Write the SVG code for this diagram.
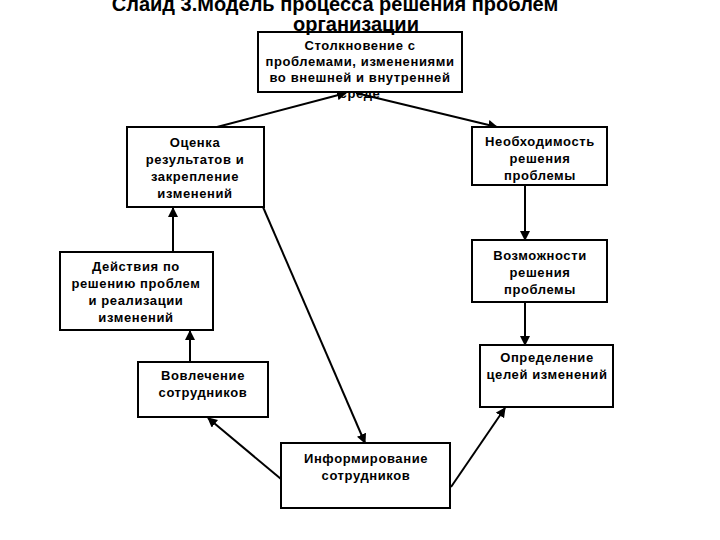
<svg xmlns="http://www.w3.org/2000/svg" width="720" height="540" viewBox="0 0 720 540">
<defs>
<style>
.box{fill:#fff;stroke:#000;stroke-width:2}
.t{font-family:"Liberation Sans",Arial,sans-serif;font-weight:bold;font-size:13px;letter-spacing:0.6px;text-anchor:middle;fill:#000}
.title{font-family:"Liberation Sans",Arial,sans-serif;font-weight:bold;font-size:20px;text-anchor:middle;fill:#000}
.c{stroke:#000;stroke-width:2;fill:none}
</style>
<marker id="a" viewBox="0 0 10 10" refX="9" refY="5" markerWidth="5" markerHeight="5" orient="auto" markerUnits="strokeWidth">
<path d="M0,0 L10,5 L0,10 z" fill="#000"/>
</marker>
</defs>
<rect width="720" height="540" fill="#fff"/>
<g id="title">
<text class="title" x="335" y="11">Слайд 3.Модель процесса решения проблем</text>
</g>
<g id="connectors">
<line class="c" x1="217" y1="127" x2="346" y2="93" marker-end="url(#a)"/>
<line class="c" x1="356" y1="93" x2="497" y2="127" marker-end="url(#a)"/>
<line class="c" x1="525" y1="185" x2="525" y2="240" marker-end="url(#a)"/>
<line class="c" x1="525" y1="302" x2="525" y2="345" marker-end="url(#a)"/>
<line class="c" x1="451" y1="487" x2="505" y2="408" marker-end="url(#a)"/>
<line class="c" x1="281" y1="479" x2="208" y2="418" marker-end="url(#a)"/>
<line class="c" x1="190" y1="362" x2="190" y2="331" marker-end="url(#a)"/>
<line class="c" x1="173" y1="252" x2="173" y2="208" marker-end="url(#a)"/>
<line class="c" x1="263" y1="207" x2="365" y2="443" marker-end="url(#a)"/>
</g>
<g id="n1">
<rect class="box" x="258" y="32" width="204" height="60"/>
<text class="t" x="360" y="50">Столкновение с</text>
<text class="t" x="360" y="66">проблемами, изменениями</text>
<text class="t" x="360" y="82">во внешней и внутренней</text>
<text class="t" x="360" y="98">среде</text>
</g>
<g id="title2">
<text class="title" x="356" y="31">организации</text>
</g>
<g id="n2">
<rect class="box" x="472" y="127" width="135" height="58"/>
<text class="t" x="540" y="146">Необходимость</text>
<text class="t" x="540" y="163">решения</text>
<text class="t" x="540" y="180">проблемы</text>
</g>
<g id="n3">
<rect class="box" x="472" y="240" width="135" height="62"/>
<text class="t" x="540" y="260">Возможности</text>
<text class="t" x="540" y="277">решения</text>
<text class="t" x="540" y="294">проблемы</text>
</g>
<g id="n4">
<rect class="box" x="480" y="345" width="133" height="62"/>
<text class="t" x="547" y="362">Определение</text>
<text class="t" x="547" y="379">целей изменений</text>
</g>
<g id="n5">
<rect class="box" x="281" y="443" width="169" height="65"/>
<text class="t" x="366" y="463">Информирование</text>
<text class="t" x="366" y="480">сотрудников</text>
</g>
<g id="n6">
<rect class="box" x="138" y="362" width="130" height="55"/>
<text class="t" x="203" y="380">Вовлечение</text>
<text class="t" x="203" y="397">сотрудников</text>
</g>
<g id="n7">
<rect class="box" x="60" y="252" width="153" height="78"/>
<text class="t" x="136" y="271">Действия по</text>
<text class="t" x="136" y="288">решению проблем</text>
<text class="t" x="136" y="305">и реализации</text>
<text class="t" x="136" y="322">изменений</text>
</g>
<g id="n8">
<rect class="box" x="127" y="127" width="137" height="80"/>
<text class="t" x="195" y="147">Оценка</text>
<text class="t" x="195" y="164">результатов и</text>
<text class="t" x="195" y="181">закрепление</text>
<text class="t" x="195" y="198">изменений</text>
</g>
</svg>
